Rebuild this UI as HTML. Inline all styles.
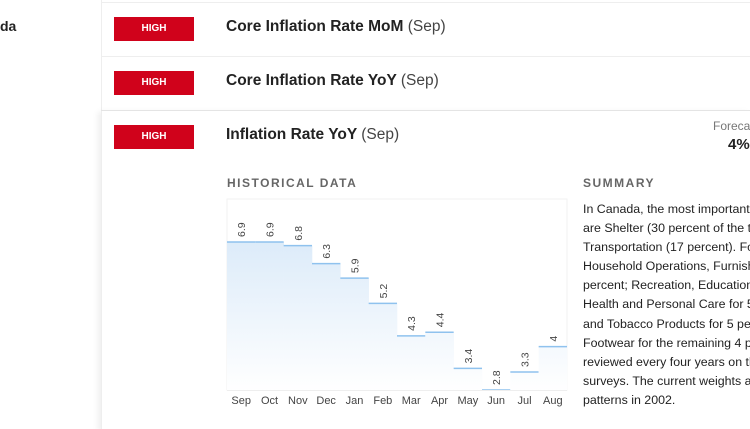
<!DOCTYPE html>
<html><head><meta charset="utf-8"><style>
html,body{margin:0;width:750px;height:429px;overflow:hidden}
body{background:#fff;font-family:"Liberation Sans",Arial,sans-serif;color:#222}
#w{position:relative;width:750px;height:429px;overflow:hidden}
.a{position:absolute}
.badge{position:absolute;left:114px;width:80px;height:24px;background:#d0021b;color:#fff;font-weight:bold;font-size:10px;line-height:24px;text-align:center}
.t{position:absolute;left:226px;font-size:15.5px;font-weight:bold;color:#222;white-space:nowrap}
.t span{font-weight:normal;color:#444}
.sum{position:absolute;left:583px;top:200px;width:167px;overflow:hidden;font-size:12.4px;line-height:19.1px;color:#222;white-space:nowrap}
</style></head><body><div id="w">
<div class="a" style="left:0;top:18px;font-weight:bold;font-size:14px">da</div>
<div class="a" style="left:101px;top:0;width:1px;height:429px;background:#eee"></div>
<div class="a" style="left:101px;top:2px;width:649px;height:1px;background:#eee"></div>
<div class="a" style="left:101px;top:56px;width:649px;height:1px;background:#eee"></div>
<div class="a" style="left:101px;top:110px;width:649px;height:1px;background:#e4e4e4"></div>
<div class="a" style="left:101px;top:110px;width:649px;height:319px;box-shadow:-3px 2px 6px rgba(0,0,0,.07)"></div>
<div class="badge" style="top:17px">HIGH</div>
<div class="badge" style="top:71px">HIGH</div>
<div class="badge" style="top:125px">HIGH</div>
<div class="t" style="top:18px">Core Inflation Rate MoM <span>(Sep)</span></div>
<div class="t" style="top:72px">Core Inflation Rate YoY <span>(Sep)</span></div>
<div class="t" style="top:126px">Inflation Rate YoY <span>(Sep)</span></div>
<div class="a" style="left:713px;top:119px;font-size:12px;color:#777;white-space:nowrap;width:37px;overflow:hidden">Forecast</div>
<div class="a" style="left:728px;top:136px;font-size:15px;font-weight:bold;color:#222">4%</div>
<div class="a" style="left:227px;top:176px;font-size:12px;font-weight:bold;letter-spacing:1.5px;color:#666">HISTORICAL DATA</div>
<div class="a" style="left:583px;top:176px;font-size:12px;font-weight:bold;letter-spacing:1.5px;color:#666">SUMMARY</div>
<div class="sum">In Canada, the most important categories<br>are Shelter (30 percent of the total weight);<br>Transportation (17 percent). Followed by<br>Household Operations, Furnishings and<br>percent; Recreation, Education and Reading<br>Health and Personal Care for 5 percent;<br>and Tobacco Products for 5 percent, Clothing<br>Footwear for the remaining 4 percent.<br>reviewed every four years on the basis<br>surveys. The current weights are based<br>patterns in 2002.</div>
<svg class="a" style="left:0;top:0" width="750" height="429">
<defs><linearGradient id="g" gradientUnits="userSpaceOnUse" x1="0" y1="240" x2="0" y2="392"><stop offset="0" stop-color="#dcebf9"/><stop offset="1" stop-color="#ffffff"/></linearGradient></defs>
<rect x="227" y="199" width="340" height="191" fill="none" stroke="#f2f2f2"/>
<g id="bars"></g>
<line x1="227" y1="390.5" x2="567" y2="390.5" stroke="#eee"/>
<g font-size="11" fill="#444" text-anchor="middle" id="months"></g>
<g font-size="10.5" fill="#444" id="labs"></g>
</svg>
</div>
<script>
var v=[6.9,6.9,6.8,6.3,5.9,5.2,4.3,4.4,3.4,2.8,3.3,4],m=["Sep","Oct","Nov","Dec","Jan","Feb","Mar","Apr","May","Jun","Jul","Aug"];
var b="",mm="",l="",w=340/12;
for(var i=0;i<12;i++){var x=227+i*w,y=390-(v[i]-2.8)*36.1,c=x+w/2;
b+='<rect x="'+x+'" y="'+y+'" width="'+(w+0.3)+'" height="'+(390-y)+'" fill="url(#g)"/><line x1="'+x+'" x2="'+(x+w)+'" y1="'+y+'" y2="'+y+'" stroke="#8fc2ee" stroke-width="1.5"/>';
mm+='<text x="'+c+'" y="404">'+m[i]+'</text>';
l+='<text transform="translate('+(c+4)+','+(y-5)+') rotate(-90)">'+v[i]+'</text>';}
var N='http://www.w3.org/2000/svg';
document.getElementById('bars').innerHTML=b;document.getElementById('months').innerHTML=mm;document.getElementById('labs').innerHTML=l;
</script>
</body></html>
